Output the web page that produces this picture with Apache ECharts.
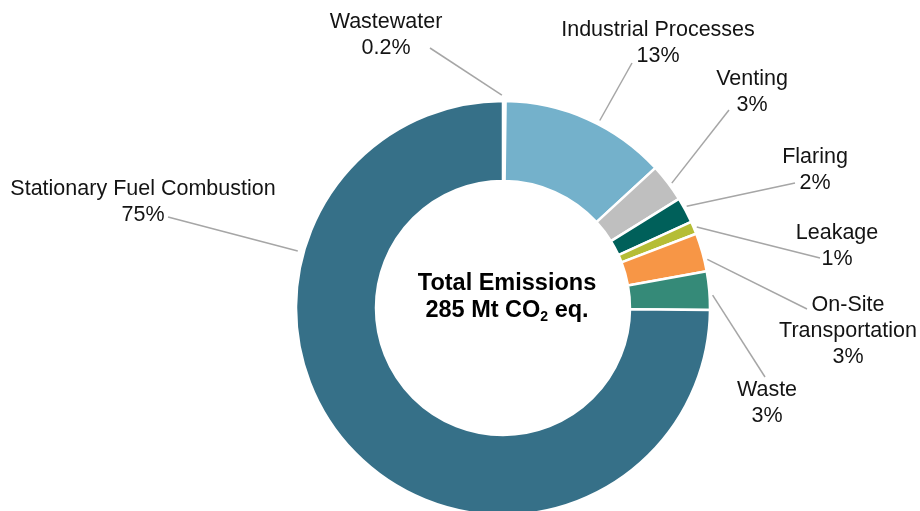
<!DOCTYPE html>
<html>
<head>
<meta charset="utf-8">
<script src="https://cdn.jsdelivr.net/npm/echarts@6/dist/echarts.min.js"></script>
<style>
  html, body { margin: 0; padding: 0; background: #fff; }
  #chart { width: 920px; height: 511px; }
</style>
</head>
<body>
<div id="chart"></div>
<script>
// Emission sources, in clockwise order from 12 o'clock
const categories = [
  'Wastewater',
  'Industrial Processes',
  'Venting',
  'Flaring',
  'Leakage',
  'On-Site Transportation',
  'Waste',
  'Stationary Fuel Combustion'
];
const shares = [0.2, 13, 3, 2, 1, 3, 3, 75];
const shareLabels = ['0.2%', '13%', '3%', '2%', '1%', '3%', '3%', '75%'];
const colors = ['#e4edf1', '#74b1cb', '#bfbfbf', '#00605a', '#b5bd35', '#f79646', '#358a78', '#367088'];
const totalLines = ['Total Emissions', '285 Mt CO', '2', ' eq.'];

// Ring geometry
const CX = 503, CY = 308, R_IN = 127, R_OUT = 207;

// Callout placement: text block centre, leader anchor angle (deg clockwise from top)
// and where the leader meets the text
const callouts = [
  { tx: 386, ty: 35,  ang: -0.3,  gap: 6, ex: 430, ey: 48 },
  { tx: 658, ty: 43,  ang: 27.3,  gap: 4, ex: 632, ey: 63 },
  { tx: 752, ty: 92,  ang: 53.5,  gap: 3, ex: 729, ey: 110 },
  { tx: 815, ty: 170, ang: 61,    gap: 3, ex: 795, ey: 183 },
  { tx: 837, ty: 246, ang: 67.3,  gap: 3, ex: 820, ey: 258 },
  { tx: 848, ty: 331, ang: 76.6,  gap: 3, ex: 807, ey: 309 },
  { tx: 767, ty: 403, ang: 86.5,  gap: 3, ex: 765, ey: 377 },
  { tx: 143, ty: 202, ang: 285.5, gap: 6, ex: 168, ey: 217 }
];

function wrapName(name) {
  return name === 'On-Site Transportation' ? 'On-Site\nTransportation' : name;
}

const FONT = 'Liberation Sans, Arial, sans-serif';

const chart = echarts.init(document.getElementById('chart'));
chart.setOption({
  animation: false,
  backgroundColor: '#ffffff',
  series: [{
    type: 'pie',
    center: [CX, CY],
    radius: [R_IN, R_OUT],
    startAngle: 90,
    clockwise: true,
    avoidLabelOverlap: false,
    data: categories.map((c, i) => ({
      name: c,
      value: shares[i],
      itemStyle: { color: colors[i] }
    })),
    itemStyle: { borderColor: '#ffffff', borderWidth: 2.5 },
    emphasis: { disabled: true },
    label: {
      show: true,
      position: 'outside',
      fontFamily: FONT,
      fontSize: 21.5,
      lineHeight: 26,
      color: '#141414',
      formatter: p => wrapName(p.name) + '\n' + shareLabels[p.dataIndex]
    },
    labelLine: {
      show: true,
      lineStyle: { color: '#a6a6a6', width: 1.5 }
    },
    labelLayout: function (p) {
      const c = callouts[p.dataIndex];
      const a = c.ang * Math.PI / 180;
      const r = R_OUT + c.gap;
      const sx = CX + r * Math.sin(a);
      const sy = CY - r * Math.cos(a);
      return {
        x: c.tx,
        y: c.ty,
        align: 'center',
        verticalAlign: 'middle',
        labelLinePoints: [[sx, sy], [c.ex, c.ey], [c.ex, c.ey]]
      };
    }
  }],
  graphic: [{
    type: 'text',
    z: 100,
    x: CX + 4,
    y: CY - 11,
    style: {
      text: '{b|' + totalLines[0] + '}\n{b|' + totalLines[1] + '}{s|' + totalLines[2] + '}{b|' + totalLines[3] + '}',
      align: 'center',
      verticalAlign: 'middle',
      rich: {
        b: {
          fontFamily: FONT,
          fontWeight: 'bold',
          fontSize: 23.5,
          lineHeight: 27,
          color: '#000000'
        },
        s: {
          fontFamily: FONT,
          fontWeight: 'bold',
          fontSize: 14,
          lineHeight: 27,
          padding: [13, 0, 0, 0],
          color: '#000000'
        }
      }
    }
  }]
});
</script>
</body>
</html>
